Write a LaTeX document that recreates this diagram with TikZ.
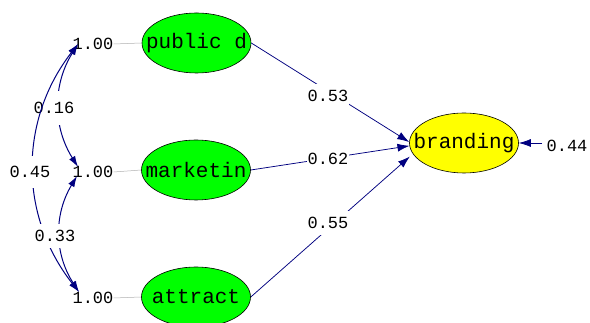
\documentclass[tikz,border=0pt]{standalone}
\usepackage{fontspec}
\newfontfamily\lmono{Liberation Mono}
\usetikzlibrary{shapes.geometric,arrows.meta}
\definecolor{navy}{RGB}{0,0,128}
\definecolor{lgreen}{RGB}{0,255,0}
\definecolor{lyellow}{RGB}{255,255,0}
\begin{document}
\begin{tikzpicture}[x=1pt,y=1pt,
 latent/.style={ellipse,draw=black,line width=0.6pt,minimum width=109pt,minimum height=60pt,inner sep=0pt,font=\lmono\fontsize{21}{21}\selectfont},
 num/.style={font=\lmono\fontsize{17}{17}\selectfont,inner sep=0pt},
 lab/.style={num,fill=white,inner xsep=1pt,inner ysep=5pt},
 arrowpath/.style={draw=navy,line width=0.75pt,-{Latex[length=12pt,width=8pt]}},
 cov/.style={draw=navy,line width=1pt,{Latex[length=11pt,width=7pt]}-{Latex[length=11pt,width=7pt]}},
 varline/.style={draw=gray!60,line width=0.5pt}]
\useasboundingbox[fill=white] (0,0) rectangle (590,323);
% latent variables
\node[latent,fill=lgreen] (pub) at (196.5,280) {\makebox[0pt]{public d}};
\node[latent,fill=lgreen] (mar) at (196,153) {\makebox[0pt]{marketin}};
\node[latent,fill=lgreen] (att) at (196,26) {\makebox[0pt]{attract}};
\node[latent,fill=lyellow] (bra) at (464,180) {\makebox[0pt]{branding}};
% variances
\node[num] (pv) at (93,279) {1.00};
\node[num] (mv) at (93,151) {1.00};
\node[num] (av) at (93,25) {1.00};
\draw[varline] (pv.east) -- (pub.west);
\draw[varline] (mv.east) -- (mar.west);
\draw[varline] (av.east) -- (att.west);
% covariance end points
\coordinate (c1) at (78,279);
\coordinate (c2a) at (78,156);
\coordinate (c2b) at (77,147);
\coordinate (c3) at (79,31);
\draw[cov] (c1) to[bend right=32] (c2a);
\draw[cov] (c2b) to[bend right=32] (c3);
\node[lab,inner ysep=11pt] (l16) at (54,215) {0.16};
\draw[cov] (c1) to[bend right=38] (c3);
\node[lab,inner ysep=10pt] (l45) at (30,151) {0.45};
\node[lab,inner ysep=6pt] (l33) at (55,87) {0.33};
% paths
\draw[arrowpath] (pub.east) -- (bra.179);
\draw[arrowpath] (mar.east) -- (bra.183);
\draw[arrowpath,shorten >=4pt] (att.east) -- (bra.192);
\node[lab,inner ysep=6pt] (l53) at (328,227) {0.53};
\node[lab,inner ysep=6pt] (l62) at (328,164) {0.62};
\node[lab,inner ysep=6pt] (l55) at (328,100) {0.55};
% error
\coordinate (err) at (542,180);
\draw[arrowpath] (err) -- (bra.east);
\node[num] (e44) at (567,177) {0.44};
\end{tikzpicture}
\end{document}
